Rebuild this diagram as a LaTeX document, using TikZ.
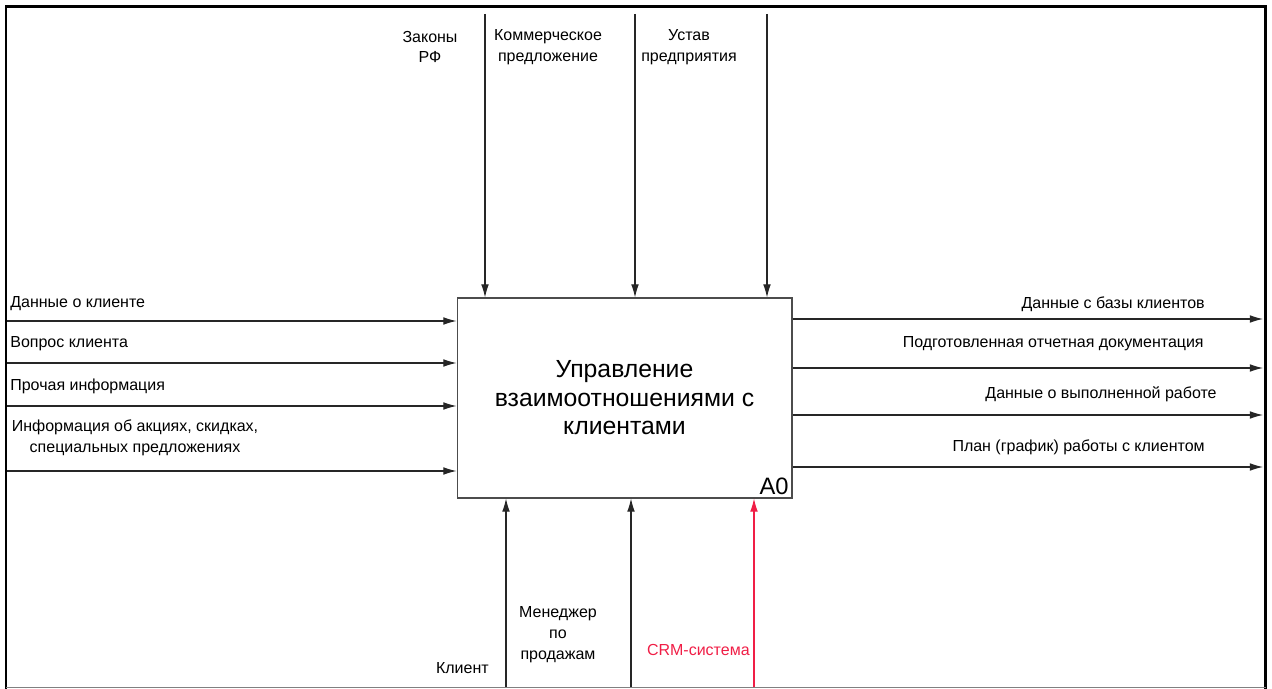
\documentclass[tikz,border=0pt]{standalone}
\usepackage{fontspec}
\setmainfont{Liberation Sans}
\usetikzlibrary{arrows.meta,positioning,calc}
\definecolor{crmred}{RGB}{240,30,70}

\begin{document}
\begin{tikzpicture}[x=0.02cm,y=-0.02cm,
    lbl/.style={font=\fontsize{9.1}{11.9}\selectfont, inner sep=0pt, align=center},
    flow/.style={draw=black!85, line width=0.6pt, -{Latex[length=7.5pt,width=4.4pt]}},
    func/.style={draw=black!70, line width=0.6pt, minimum width=6.7cm, minimum height=4cm,
                 align=center, font=\fontsize{14.1}{16.2}\selectfont}]
  \useasboundingbox (0,0) rectangle (1272,689);

  % frame
  \draw[line width=1.2pt] (6,689) -- (6,6.5) -- (1265.5,6.5) -- (1265.5,689);
  \draw[black!50, line width=0.6pt] (6,687.5) -- (1265.5,687.5);

  % function block
  \node[func] (a0) at (624.5,398) {Управление\\взаимоотношениями с\\клиентами};
  \node[font=\fontsize{13.5}{15}\selectfont, anchor=south east, inner sep=2pt] (a0num) at (a0.south east) {A0};

  % controls
  \coordinate (c1) at (485,14);
  \coordinate (c2) at (635,14);
  \coordinate (c3) at (767,14);
  \draw[flow] (c1) -- (c1 |- a0.north);
  \draw[flow] (c2) -- (c2 |- a0.north);
  \draw[flow] (c3) -- (c3 |- a0.north);
  \node[lbl] (l1) at (430,47) {Законы\\РФ};
  \node[lbl] (l2) at (548,47) {Коммерческое\\предложение};
  \node[lbl] (l3) at (689,47) {Устав\\предприятия};

  % inputs
  \coordinate (i1) at (7,321);
  \coordinate (i2) at (7,363);
  \coordinate (i3) at (7,406);
  \coordinate (i4) at (7,471);
  \draw[flow] (i1) -- (i1 -| a0.west);
  \draw[flow] (i2) -- (i2 -| a0.west);
  \draw[flow] (i3) -- (i3 -| a0.west);
  \draw[flow] (i4) -- (i4 -| a0.west);
  \node[lbl, anchor=west] (n1) at (10,304) {Данные о клиенте};
  \node[lbl, anchor=west] (n2) at (10,344) {Вопрос клиента};
  \node[lbl, anchor=west] (n3) at (10,386) {Прочая информация};
  \node[lbl] (n4) at (135,438) {Информация об акциях, скидках,\\специальных предложениях};

  % outputs
  \coordinate (o1) at (1263,319);
  \coordinate (o2) at (1263,368);
  \coordinate (o3) at (1263,415);
  \coordinate (o4) at (1263,467);
  \draw[flow] (o1 -| a0.east) -- (o1);
  \draw[flow] (o2 -| a0.east) -- (o2);
  \draw[flow] (o3 -| a0.east) -- (o3);
  \draw[flow] (o4 -| a0.east) -- (o4);
  \node[lbl, anchor=east] (m1) at (1205,304) {Данные с базы клиентов};
  \node[lbl, anchor=east] (m2) at (1204,344) {Подготовленная отчетная документация};
  \node[lbl, anchor=east] (m3) at (1217,394) {Данные о выполненной работе};
  \node[lbl, anchor=east] (m4) at (1205,447) {План (график) работы с клиентом};

  % mechanisms
  \coordinate (b1) at (506,687);
  \coordinate (b2) at (631,687);
  \coordinate (b3) at (754,687);
  \draw[flow] (b1) -- (b1 |- a0.south);
  \draw[flow] (b2) -- (b2 |- a0.south);
  \draw[flow, draw=crmred, -{Latex[length=7.5pt,width=4.4pt,fill=crmred]}] (b3) -- (b3 |- a0.south);
  \node[lbl, anchor=east] (k1) at (489,668) {Клиент};
  \node[lbl] (k2) at (558,635) {Менеджер\\по\\продажам};
  \node[lbl, anchor=east, text=crmred] (k3) at (750,650) {CRM-система};
\end{tikzpicture}
\end{document}
